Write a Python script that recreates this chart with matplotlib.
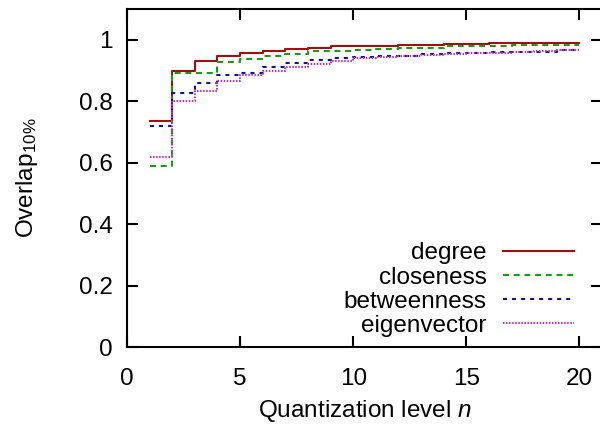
import matplotlib
matplotlib.use("Agg")
import matplotlib.pyplot as plt
import numpy as np

plt.rcParams['font.family'] = ['Liberation Sans', 'DejaVu Sans']
plt.rcParams['mathtext.fontset'] = 'custom'
plt.rcParams['mathtext.rm'] = 'Liberation Sans'
plt.rcParams['mathtext.it'] = 'Liberation Sans:italic'
plt.rcParams['lines.scale_dashes'] = False

levels = list(range(1, 21))
degree = [0.735, 0.899, 0.932, 0.946, 0.957, 0.962, 0.969, 0.973, 0.978, 0.981,
          0.979, 0.983, 0.983, 0.985, 0.987, 0.988, 0.988, 0.989, 0.988, 0.988]
closeness = [0.589, 0.893, 0.893, 0.926, 0.936, 0.948, 0.954, 0.962, 0.962, 0.968,
             0.969, 0.974, 0.974, 0.978, 0.980, 0.980, 0.983, 0.983, 0.984, 0.984]
betweenness = [0.720, 0.828, 0.860, 0.884, 0.893, 0.911, 0.924, 0.933, 0.941, 0.944,
               0.946, 0.947, 0.952, 0.958, 0.958, 0.959, 0.961, 0.961, 0.967, 0.967]
eigenvector = [0.619, 0.801, 0.834, 0.865, 0.884, 0.899, 0.912, 0.922, 0.930, 0.939,
               0.943, 0.946, 0.950, 0.952, 0.957, 0.957, 0.960, 0.962, 0.965, 0.965]

series_names = ['degree', 'closeness', 'betweenness', 'eigenvector']
xticks = [0, 5, 10, 15, 20]
yticks = [0, 0.2, 0.4, 0.6, 0.8, 1]
ytick_labels = ['0', '0.2', '0.4', '0.6', '0.8', '1']

FS = 17.5
fig = plt.figure(figsize=(6, 4.28), dpi=100)
ax = fig.add_axes([127 / 600, 81 / 428, 475 / 600, 338 / 428])

styles = [
    dict(color='#a01010', linestyle='-'),
    dict(color='#10a010', linestyle=(0, (4.3, 3.4))),
    dict(color='#1010a0', linestyle=(0, (2.9, 3.6))),
    dict(color='#c030c0', linestyle=(0, (1.1, 1.1))),
]
for name, ys, st in zip(series_names, [degree, closeness, betweenness, eigenvector], styles):
    ax.step(levels, ys, where='post', lw=1.5, label=name, **st)

ax.set_xlim(0, 21)
ax.set_ylim(0, 1.1)
ax.set_xticks(xticks)
ax.set_yticks(yticks)
ax.set_yticklabels(ytick_labels)
ax.tick_params(direction='in', length=8, width=1.5, labelsize=FS,
               top=True, right=True)
ax.tick_params(axis='x', pad=15)
ax.tick_params(axis='y', pad=10.5)
for s in ax.spines.values():
    s.set_linewidth(1.5)

ax.set_xlabel('Quantization level $\\mathit{n}$', fontsize=FS)
ax.xaxis.set_label_coords(0.5, -0.152)
ax.set_ylabel('Overlap$_{\\mathrm{10\\%}}$', fontsize=FS)
ax.yaxis.set_label_coords(-0.183, 0.5)

ax.legend(loc='lower right', bbox_to_anchor=(574 / 600, (428 - 337) / 428),
          bbox_transform=fig.transFigure, frameon=False, markerfirst=False,
          fontsize=FS, handlelength=2.93, handletextpad=0.66,
          labelspacing=0.09, borderpad=0, borderaxespad=0)

fig.savefig('out.png', dpi=100)
